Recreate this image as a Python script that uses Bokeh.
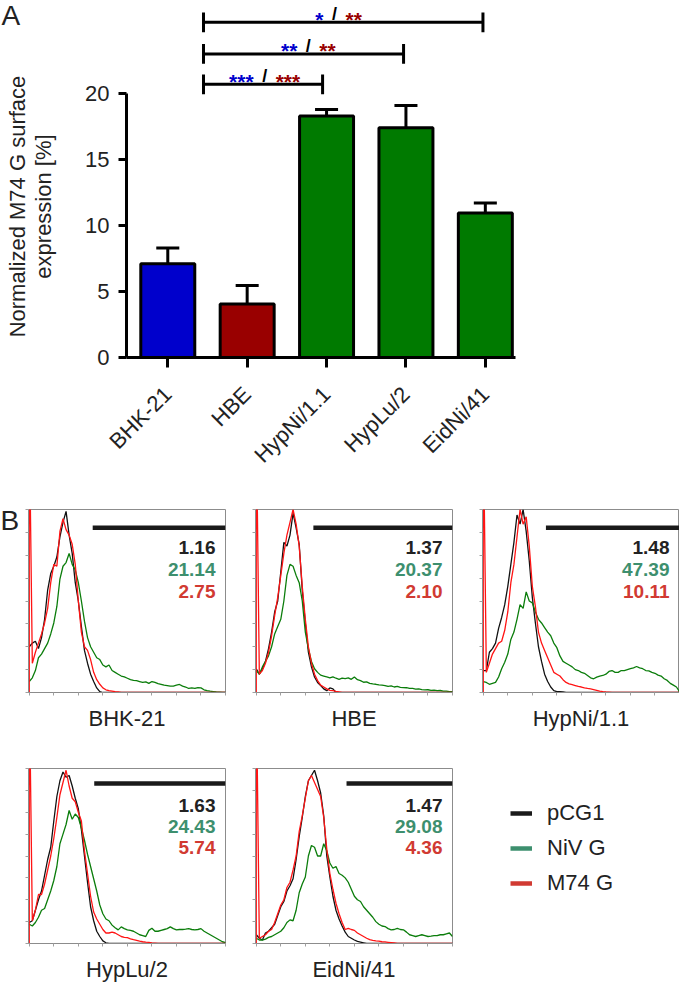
import math
from bokeh.plotting import figure
from bokeh.models import FixedTicker, Legend, LegendItem, Range1d, Spacer
from bokeh.layouts import column, row
from bokeh.embed import file_html
from bokeh.resources import INLINE
from bokeh.core.properties import value

FONT = "Liberation Sans"

# ---------------- Panel A data ----------------
cell_lines = ["BHK-21", "HBE", "HypNi/1.1", "HypLu/2", "EidNi/41"]
surface_mean = [7.1, 4.05, 18.3, 17.4, 10.95]
surface_sem = [1.2, 1.4, 0.5, 1.7, 0.75]
bar_colors = ["#0000CC", "#990000", "#007A00", "#007A00", "#007A00"]
y_ticks = [0, 5, 10, 15, 20]
y_title = ["Normalized M74 G surface", "expression [%]"]

bracket_start = [0.45, 0.45, 0.45]
bracket_end = [1.95, 2.97, 3.97]
bracket_y = [20.7, 23.0, 25.4]
sig_x = [1.22, 1.77, 2.10]
sig_blue = ["***", "**", "*"]
sig_red = ["***", "**", "**"]
sig_sep = ["/", "/", "/"]

# ---------------- Panel B data (flow cytometry histograms, % of max) ----------------
channels = list(range(0, 1025, 16))
x_ticks_hist = [0, 128, 256, 384, 512, 640, 768, 896, 1024]
y_ticks_hist = [0, 12.5, 25, 37.5, 50, 62.5, 75, 87.5, 100]

bhk_pcg1 = [25, 27, 28, 24, 30, 40, 56, 65, 69, 74,
            85, 93, 99, 86, 76, 60, 50, 36, 23, 16,
            10, 6, 2.5, 0.5, 0, 0, 0, 0, 0, 0,
            0, 0, 0, 0, 0, 0, 0, 0, 0, 0,
            0, 0, 0, 0, 0, 0, 0, 0, 0, 0,
            0, 0, 0, 0, 0, 0, 0, 0, 0, 0,
            0, 0, 0, 0, 0]
bhk_niv = [6, 8, 12, 19, 21, 24, 27, 32, 38, 47,
           62, 69, 71, 76, 70, 67, 60, 50, 39, 30,
           25, 22, 19, 18, 15, 14, 15, 12, 11, 10,
           9, 8.5, 7.8, 7, 6.6, 6.5, 6, 5.5, 5.8, 5,
           6, 5.5, 4.8, 4.5, 4, 3.8, 3.5, 3.5, 4, 4.4,
           3.5, 3, 2.2, 2.5, 2.2, 2.7, 2.5, 1.5, 1, 0.7,
           0.5, 0.3, 0.2, 0, 0]
bhk_m74 = [150, 16, 22, 27, 32, 38, 46, 60, 70, 69,
           88, 95, 89, 86, 81, 70, 50, 33, 25, 23,
           18, 11, 7, 4.5, 2.5, 1.5, 1, 0.8, 0.5, 0.3,
           0, 0, 0, 0, 0, 0, 0, 0, 0, 0,
           0, 0, 0, 0, 0, 0, 0, 0, 0, 0,
           0, 0, 0, 0, 0, 0, 0, 0, 0, 0,
           0, 0, 0, 0, 0]

hbe_pcg1 = [13, 10, 13, 17, 24, 33, 44, 50, 66, 82,
            80, 86, 98, 90, 81, 56, 38, 22, 14, 8.5,
            5.5, 3.8, 2, 1, 2.5, 2, 0, 0, 0, 0,
            0, 0, 0, 0, 0, 0, 0, 0, 0, 0,
            0, 0, 0, 0, 0, 0, 0, 0, 0, 0,
            0, 0, 0, 0, 0, 0, 0, 0, 0, 0,
            0, 0, 0, 0, 0]
hbe_niv = [12, 10, 14, 17, 20, 25, 32, 36, 40, 50,
           64, 70, 69, 64, 60, 50, 33, 24, 17, 13,
           11, 9.5, 9, 8.5, 8, 8.5, 7.8, 7.2, 7.8, 7.6,
           8, 7.2, 8.5, 7, 6.5, 5.6, 5.8, 5, 4.7, 4.5,
           4.2, 4, 3.8, 3.4, 3.6, 3, 3.3, 2.8, 2.7, 2.6,
           2.2, 2.2, 1.8, 2, 1.6, 1.4, 1.5, 1.2, 1.3, 1,
           1.1, 0.8, 0.8, 0.5, 0.4]
hbe_m74 = [150, 10, 12, 16, 22, 31, 42, 52, 64, 76,
           86, 93, 100, 92, 80, 58, 40, 25, 16, 10,
           6.5, 4, 3, 2, 1.2, 1, 0.6, 0.3, 0, 0,
           0, 0, 0, 0, 0, 0, 0, 0, 0, 0,
           0, 0, 0, 0, 0, 0, 0, 0, 0, 0,
           0, 0, 0, 0, 0, 0, 0, 0, 0, 0,
           0, 0, 0, 0, 0]

hypni_pcg1 = [12, 12, 22, 24, 27, 35, 41, 48, 58, 70,
              82, 97, 92, 100, 88, 72, 52, 38, 25, 17,
              10, 6, 3, 1, 0.5, 0.4, 0.3, 0, 0, 0,
              0, 0, 0, 0, 0, 0, 0, 0, 0, 0,
              0, 0, 0, 0, 0, 0, 0, 0, 0, 0,
              0, 0, 0, 0, 0, 0, 0, 0, 0, 0,
              0, 0, 0, 0, 0]
hypni_niv = [6, 5.5, 4.5, 5, 5.5, 8.5, 13, 16.5, 21, 29,
             33, 40, 48, 46, 55, 50, 49, 44, 40, 38,
             35.5, 33, 31, 27, 24.5, 20, 17, 16, 15, 14,
             12.5, 12, 11, 10.5, 9.3, 8, 7.5, 8.4, 9, 9.3,
             10, 11.5, 12, 11, 11, 12, 12, 12.5, 13, 13.5,
             14.2, 13.5, 13, 12, 11.8, 11, 10.5, 9.5, 9, 7.5,
             6.6, 5, 4, 3, 0.5]
hypni_m74 = [150, 11, 16, 21, 24, 27, 28, 34, 44, 60,
             70, 85, 100, 92, 96, 80, 58, 47, 33, 27,
             23, 19, 15, 11, 10, 9, 7, 5.5, 4.7, 4.3,
             3.8, 3.3, 3, 2.5, 2.2, 2, 1.6, 1.2, 0.8, 0.5,
             0.3, 0.2, 0.1, 0, 0, 0, 0, 0, 0, 0,
             0, 0, 0, 0, 0, 0, 0, 0, 0, 0,
             0, 0, 0, 0, 0]

hyplu_pcg1 = [12, 13, 19, 25, 30, 39, 48, 55, 70, 84,
              93, 98, 95, 96, 90, 83, 77, 65, 50, 35,
              21, 13, 7, 4, 1.5, 0.4, 0, 0, 0, 0,
              0, 0, 0, 0, 0, 0, 0, 0, 0, 0,
              0, 0, 0, 0, 0, 0, 0, 0, 0, 0,
              0, 0, 0, 0, 0, 0, 0, 0, 0, 0,
              0, 0, 0, 0, 0]
hyplu_niv = [11, 10, 12, 15, 19, 20, 25, 30, 36, 44,
             57, 62.5, 68, 76, 71, 74, 72, 66, 59, 51,
             44, 37, 30, 22, 17, 14, 13, 10.5, 9, 7.8,
             9.5, 8.5, 7.8, 7.5, 7, 6, 5, 4.5, 4, 7.5,
             8.7, 7, 7, 7.5, 8, 8.5, 9.5, 8.5, 7.8, 8,
             8, 8.2, 8.5, 8, 7.8, 8, 8.5, 7, 6, 5,
             4, 3, 2, 1, 0.5]
hyplu_m74 = [150, 13, 19, 28, 28, 34, 42, 50, 60, 72,
             85, 92, 99, 90, 83, 81, 75, 70, 53, 40,
             27, 18, 14, 11, 8, 6, 6, 6.5, 6, 5,
             4, 3.5, 3.3, 2.7, 2.2, 1.8, 1.3, 1, 0.8, 0.7,
             0.4, 0.2, 0, 0, 0, 0, 0, 0, 0, 0,
             0, 0, 0, 0, 0, 0, 0, 0, 0, 0,
             0, 0, 0, 0, 0]

eidni_pcg1 = [5, 3, 2, 6, 7, 9, 11, 16, 21, 24,
              30, 33, 37, 48, 61, 72, 84, 93, 96, 99,
              93, 86, 73, 50, 38, 27, 19, 14, 10, 6.5,
              4, 3, 2, 1.2, 0.8, 0.4, 0, 0, 0, 0,
              0, 0, 0, 0, 0, 0, 0, 0, 0, 0,
              0, 0, 0, 0, 0, 0, 0, 0, 0, 0,
              0, 0, 0, 0, 0]
eidni_niv = [3, 2, 2, 2.5, 3.5, 4, 5, 6, 7, 9,
             12, 13.5, 13, 19, 29, 34, 38, 50, 56, 55,
             50, 50, 57, 53, 46, 43, 44, 40, 39, 37.5,
             35, 31, 27, 25, 24, 21, 19, 17, 15, 12.5,
             11, 10, 9.7, 8.5, 7.8, 8, 8.7, 8, 7.8, 6.5,
             5, 4.5, 4, 4.5, 5, 4.5, 4, 4.2, 4.5, 4.5,
             5, 5, 5.5, 6, 4]
eidni_m74 = [150, 3, 4, 5, 7, 8, 12, 17, 22, 25,
             32, 35, 42, 50, 64, 73, 83, 93, 96, 92,
             88, 84, 72, 54, 40, 31, 23, 17, 12, 8,
             8.7, 8, 7.5, 6, 5, 4, 3, 2.2, 1.8, 1.5,
             1.3, 1, 0.9, 0.7, 0.5, 0.3, 0, 0, 0, 0,
             0, 0, 0, 0, 0, 0, 0, 0, 0, 0,
             0, 0, 0, 0, 0]

hist_names = ["BHK-21", "HBE", "HypNi/1.1", "HypLu/2", "EidNi/41"]
hist_pcg1 = [bhk_pcg1, hbe_pcg1, hypni_pcg1, hyplu_pcg1, eidni_pcg1]
hist_niv = [bhk_niv, hbe_niv, hypni_niv, hyplu_niv, eidni_niv]
hist_m74 = [bhk_m74, hbe_m74, hypni_m74, hyplu_m74, eidni_m74]
gate_start = [331, 298, 327, 339, 471]
gate_level = [90, 90, 90, 91.5, 91.5]
pct_pcg1 = ["1.16", "1.37", "1.48", "1.63", "1.47"]
pct_niv = ["21.14", "20.37", "47.39", "24.43", "29.08"]
pct_m74 = ["2.75", "2.10", "10.11", "5.74", "4.36"]
pct_levels = [79, 67, 55]
series_names = ["pCG1", "NiV G", "M74 G"]
line_colors = ["#111111", "#0B7D0B", "#FF1414"]
legend_colors = ["#1A1A1A", "#3D8F6E", "#D13A32"]
legend_dummy_x = [-2, -1]
legend_dummy_y = [-2, -2]

TXT = "#222222"
A_TOP, A_BOTTOM, A_H = 2, 148, 505
YR_A = (0, 26.9)

# ---------------- Panel A: left strip with panel letter and y title ----------------
pAL = figure(width=70, height=A_H, x_range=Range1d(0, 70), y_range=Range1d(*YR_A),
             output_backend="svg", toolbar_location=None,
             min_border_left=0, min_border_right=0, min_border_top=A_TOP, min_border_bottom=A_BOTTOM,
             x_axis_location=None, y_axis_location=None)
pAL.grid.visible = False
pAL.outline_line_color = None
pAL.text(x=[1], y=[25.9], text=["A"], text_align="left", text_baseline="middle",
         text_font=value(FONT), text_font_size="28px", text_color=TXT)
pAL.text(x=[17, 43], y=[11.44, 11.44], text=y_title, angle=math.pi / 2, text_align="center",
         text_baseline="middle", text_font=value(FONT), text_font_size="22px", text_color=TXT)

# ---------------- Panel A: bar chart ----------------
xpos = list(range(len(cell_lines)))
pA = figure(width=610, height=A_H, x_range=Range1d(-0.52, 4.38), y_range=Range1d(*YR_A),
            output_backend="svg", toolbar_location=None,
            min_border_left=56, min_border_right=165, min_border_top=A_TOP, min_border_bottom=A_BOTTOM)
pA.grid.visible = False
pA.outline_line_color = None

err_top = [m + s for m, s in zip(surface_mean, surface_sem)]
pA.segment(x0=xpos, y0=surface_mean, x1=xpos, y1=err_top, line_color="black", line_width=3)
pA.segment(x0=[x - 0.145 for x in xpos], y0=err_top, x1=[x + 0.145 for x in xpos], y1=err_top,
           line_color="black", line_width=3)
pA.vbar(x=xpos, top=surface_mean, width=0.68, fill_color=bar_colors, line_color="black", line_width=3)

pA.segment(x0=bracket_start, y0=bracket_y, x1=bracket_end, y1=bracket_y, line_color="black", line_width=3)
pA.segment(x0=bracket_start, y0=[b - 0.75 for b in bracket_y], x1=bracket_start,
           y1=[b + 0.75 for b in bracket_y], line_color="black", line_width=3)
pA.segment(x0=bracket_end, y0=[b - 0.75 for b in bracket_y], x1=bracket_end,
           y1=[b + 0.75 for b in bracket_y], line_color="black", line_width=3)
pA.text(x=sig_x, y=bracket_y, text=sig_blue, x_offset=-11, y_offset=-3, text_align="right",
        text_baseline="middle", text_color="#0000CC", text_font=value(FONT),
        text_font_size="21px", text_font_style="bold")
pA.text(x=sig_x, y=bracket_y, text=sig_sep, y_offset=-8, text_align="center",
        text_baseline="middle", text_color="black", text_font=value(FONT),
        text_font_size="18px", text_font_style="bold")
pA.text(x=sig_x, y=bracket_y, text=sig_red, x_offset=11, y_offset=-3, text_align="left",
        text_baseline="middle", text_color="#990000", text_font=value(FONT),
        text_font_size="21px", text_font_style="bold")

yax = pA.yaxis[0]
yax.bounds = (0, 20)
yax.ticker = FixedTicker(ticks=y_ticks)
yax.axis_line_width = 3
yax.major_tick_line_width = 3
yax.major_tick_out = 8
yax.major_tick_in = 0
yax.minor_tick_line_color = None
yax.major_label_standoff = 9
yax.major_label_text_font = FONT
yax.major_label_text_font_size = "22px"
yax.major_label_text_color = TXT

xax = pA.xaxis[0]
xax.ticker = FixedTicker(ticks=xpos)
xax.major_label_overrides = {i: name for i, name in zip(xpos, cell_lines)}
xax.major_label_orientation = math.pi / 4
xax.axis_line_width = 3
xax.major_tick_line_width = 3
xax.major_tick_out = 10
xax.major_tick_in = 0
xax.minor_tick_line_color = None
xax.major_label_standoff = 23
xax.major_label_text_font = FONT
xax.major_label_text_font_size = "22px"
xax.major_label_text_color = TXT


# ---------------- Panel B ----------------
def hist_fig(i, width, left, right, height, bottom):
    p = figure(width=width, height=height, x_range=Range1d(-4, 1024), y_range=Range1d(0, 100),
               output_backend="svg", toolbar_location=None,
               min_border_left=left, min_border_right=right, min_border_top=4, min_border_bottom=bottom)
    p.grid.visible = False
    p.outline_line_color = "#8C8C8C"
    p.outline_line_width = 1
    for ax, tk in ((p.xaxis[0], x_ticks_hist), (p.yaxis[0], y_ticks_hist)):
        ax.ticker = FixedTicker(ticks=tk)
        ax.major_label_overrides = {t: "" for t in tk}
        ax.axis_line_color = "#8C8C8C"
        ax.major_tick_line_color = "#A0A0A0"
        ax.major_tick_out = 3
        ax.major_tick_in = 0
        ax.minor_tick_line_color = None
        ax.major_label_text_font_size = "1px"
        ax.major_label_standoff = 0
    xa = p.xaxis[0]
    xa.axis_label = hist_names[i]
    xa.axis_label_text_font = FONT
    xa.axis_label_text_font_size = "22px"
    xa.axis_label_text_font_style = "normal"
    xa.axis_label_text_color = TXT
    xa.axis_label_standoff = 10

    p.line(x=channels, y=hist_pcg1[i], line_color=line_colors[0], line_width=1.3)
    p.line(x=channels, y=hist_niv[i], line_color=line_colors[1], line_width=1.3)
    p.line(x=[channels[0]] + channels, y=[0] + hist_m74[i], line_color=line_colors[2], line_width=1.3)

    p.segment(x0=[gate_start[i]], y0=[gate_level[i]], x1=[1024], y1=[gate_level[i]],
              line_color="#1A1A1A", line_width=4.5)
    p.text(x=[1024, 1024, 1024], y=pct_levels, text=[pct_pcg1[i], pct_niv[i], pct_m74[i]],
           x_offset=-10, text_align="right", text_baseline="middle",
           text_color=["#222222", "#3D8F6E", "#D13A32"], text_font=value(FONT),
           text_font_size="19px", text_font_style="bold")
    return p


R1_H, R1_B = 259, 72
R2_H, R2_B = 220, 33

pB = figure(width=22, height=R1_H, x_range=Range1d(0, 22), y_range=Range1d(0, 100),
            output_backend="svg", toolbar_location=None,
            min_border_left=0, min_border_right=0, min_border_top=4, min_border_bottom=R1_B,
            x_axis_location=None, y_axis_location=None)
pB.grid.visible = False
pB.outline_line_color = None
pB.text(x=[0], y=[94], text=["B"], text_align="left", text_baseline="middle",
        text_font=value(FONT), text_font_size="28px", text_color=TXT)

h1 = hist_fig(0, 218, 6, 15, R1_H, R1_B)
h2 = hist_fig(1, 227, 15, 15, R1_H, R1_B)
h3 = hist_fig(2, 212, 15, 0, R1_H, R1_B)
h4 = hist_fig(3, 218, 6, 15, R2_H, R2_B)
h5 = hist_fig(4, 227, 15, 15, R2_H, R2_B)

pL = figure(width=212, height=R2_H, output_backend="svg", toolbar_location=None,
            x_range=Range1d(0, 1), y_range=Range1d(0, 1),
            min_border_left=0, min_border_top=4, min_border_right=0, min_border_bottom=R2_B,
            x_axis_location=None, y_axis_location=None)
pL.grid.visible = False
pL.outline_line_color = None
items = []
for name, col in zip(series_names, legend_colors):
    r = pL.line(x=legend_dummy_x, y=legend_dummy_y, line_color=col, line_width=4.5)
    items.append(LegendItem(label=name, renderers=[r]))
legend = Legend(items=items, location=(43, 47), padding=0, margin=0, spacing=9,
                glyph_width=22, glyph_height=24, label_height=24, label_standoff=15,
                label_text_font=FONT, label_text_font_size="22px", label_text_color=TXT,
                border_line_color=None, background_fill_alpha=0)
pL.add_layout(legend)

layout = column(row(pAL, pA), row(pB, h1, h2, h3), row(Spacer(width=22, height=R2_H), h4, h5, pL))

with open("out.html", "w") as f:
    f.write(file_html(layout, INLINE))
